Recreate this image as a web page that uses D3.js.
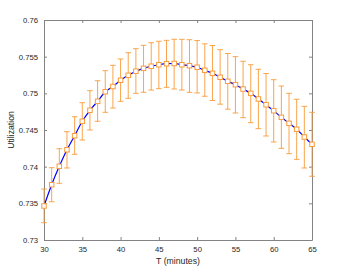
<!DOCTYPE html>
<html>
<head>
<meta charset="utf-8">
<script src="https://cdn.jsdelivr.net/npm/d3@7"></script>
<style>
  body { margin: 0; background: #fff; }
  text { font-family: "Liberation Sans", Arial, sans-serif; fill: #262626; }
</style>
</head>
<body>
<div id="chart"></div>
<script>
// T in minutes, one point per minute
const minutes = d3.range(30, 66);

// mean utilization
const means = [
  0.73464, 0.73754, 0.74005, 0.74231, 0.74422, 0.74619, 0.74769, 0.74891, 0.75022, 0.75093,
  0.75178, 0.75246, 0.75302, 0.75341, 0.75369, 0.75390, 0.75404, 0.75407, 0.75390, 0.75377,
  0.75356, 0.75314, 0.75273, 0.75219, 0.75164, 0.75118, 0.75059, 0.75000, 0.74923, 0.74844,
  0.74763, 0.74673, 0.74591, 0.74510, 0.74405, 0.74305
];

// error bar ends
const upper = [
  0.73695, 0.73986, 0.74245, 0.74477, 0.74681, 0.74872, 0.75036, 0.75172, 0.75309, 0.75382,
  0.75468, 0.75554, 0.75609, 0.75655, 0.75690, 0.75710, 0.75723, 0.75737, 0.75737, 0.75731,
  0.75720, 0.75675, 0.75652, 0.75595, 0.75543, 0.75500, 0.75437, 0.75390, 0.75328, 0.75270,
  0.75186, 0.75100, 0.75000, 0.74919, 0.74823, 0.74741
];
const lower = [
  0.73236, 0.73522, 0.73773, 0.73982, 0.74169, 0.74364, 0.74500, 0.74619, 0.74741, 0.74800,
  0.74891, 0.74932, 0.75000, 0.75014, 0.75045, 0.75063, 0.75082, 0.75059, 0.75045, 0.75014,
  0.75005, 0.74960, 0.74902, 0.74852, 0.74784, 0.74732, 0.74668, 0.74600, 0.74518, 0.74418,
  0.74336, 0.74250, 0.74177, 0.74100, 0.73982, 0.73869
];

const xTicks = [30, 35, 40, 45, 50, 55, 60, 65];
const yTicks = [0.73, 0.735, 0.74, 0.745, 0.75, 0.755, 0.76];

const width = 346, height = 270;
const margin = {top: 20, right: 34, bottom: 30, left: 44};

const svg = d3.select("#chart").append("svg")
    .attr("width", width)
    .attr("height", height);

const x = d3.scaleLinear().domain([30, 65]).range([margin.left, width - margin.right]);
const y = d3.scaleLinear().domain([0.73, 0.76]).range([height - margin.bottom, margin.top]);

const axisColor = "#838383";
const tickLen = 3;

// axes, MATLAB style box with ticks inside
function styleAxis(g) {
    g.select(".domain").attr("stroke", axisColor);
    g.selectAll(".tick line").attr("stroke", axisColor);
    g.selectAll(".tick text").attr("font-size", "7.7px").attr("fill", "#262626");
}

svg.append("g")
    .attr("transform", `translate(0,${height - margin.bottom})`)
    .call(d3.axisBottom(x).tickValues(xTicks).tickSizeInner(-tickLen).tickSizeOuter(0).tickPadding(7))
    .call(styleAxis);

svg.append("g")
    .attr("transform", `translate(0,${margin.top})`)
    .call(d3.axisTop(x).tickValues(xTicks).tickSizeInner(-tickLen).tickSizeOuter(0).tickFormat(""))
    .call(styleAxis);

svg.append("g")
    .attr("transform", `translate(${margin.left},0)`)
    .call(d3.axisLeft(y).tickValues(yTicks).tickSizeInner(-tickLen).tickSizeOuter(0).tickPadding(6)
        .tickFormat(d => String(+d.toFixed(3))))
    .call(styleAxis);

svg.append("g")
    .attr("transform", `translate(${width - margin.right},0)`)
    .call(d3.axisRight(y).tickValues(yTicks).tickSizeInner(-tickLen).tickSizeOuter(0).tickFormat(""))
    .call(styleAxis);

// axis titles
svg.append("text")
    .attr("x", (margin.left + width - margin.right) / 2)
    .attr("y", 264)
    .attr("text-anchor", "middle")
    .attr("font-size", "8.7px")
    .text("T (minutes)");

svg.append("text")
    .attr("transform", `translate(13.5,${(margin.top + height - margin.bottom) / 2}) rotate(-90)`)
    .attr("text-anchor", "middle")
    .attr("font-size", "8.7px")
    .text("Utilization");

const pts = minutes.map((m, i) => ({m: m, v: means[i], lo: lower[i], hi: upper[i]}));

// blue line
const line = d3.line()
    .x(d => x(d.m))
    .y(d => y(d.v))
    .curve(d3.curveMonotoneX);

svg.append("path")
    .datum(pts)
    .attr("fill", "none")
    .attr("stroke", "#0000ff")
    .attr("stroke-width", 1.2)
    .attr("d", line);

// error bars
const orange = "#f89b3a";
const capW = 2.8;
const eb = svg.append("g").attr("stroke", orange).attr("stroke-width", 0.9);

eb.selectAll(".v").data(pts).enter().append("line")
    .attr("x1", d => x(d.m)).attr("x2", d => x(d.m))
    .attr("y1", d => y(d.lo)).attr("y2", d => y(d.hi));

eb.selectAll(".t").data(pts).enter().append("line")
    .attr("x1", d => x(d.m) - capW).attr("x2", d => x(d.m) + capW)
    .attr("y1", d => y(d.hi)).attr("y2", d => y(d.hi));

eb.selectAll(".b").data(pts).enter().append("line")
    .attr("x1", d => x(d.m) - capW).attr("x2", d => x(d.m) + capW)
    .attr("y1", d => y(d.lo)).attr("y2", d => y(d.lo));

// square markers
const ms = 4.5;
svg.append("g").selectAll("rect").data(pts).enter().append("rect")
    .attr("x", d => x(d.m) - ms / 2)
    .attr("y", d => y(d.v) - ms / 2)
    .attr("width", ms)
    .attr("height", ms)
    .attr("fill", "#fff")
    .attr("stroke", orange)
    .attr("stroke-width", 1);
</script>
</body>
</html>
